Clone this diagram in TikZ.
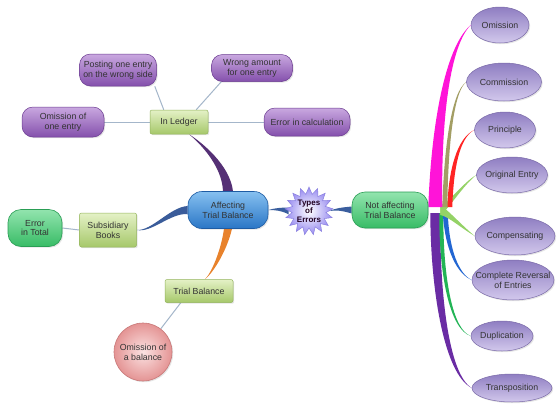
\documentclass[tikz,border=0pt]{standalone}
\usepackage{fontspec}
\setmainfont{Liberation Sans}
\usetikzlibrary{calc,shapes.geometric,shapes.symbols,shadows,backgrounds}
\definecolor{purTop}{HTML}{C9A8E0}
\definecolor{purBot}{HTML}{8450AC}
\definecolor{purDr}{HTML}{6A3A90}
\definecolor{ellTop}{HTML}{8F7EC2}
\definecolor{ellBot}{HTML}{D2C8EC}
\definecolor{ellDr}{HTML}{7A6AA8}
\definecolor{grTop}{HTML}{E4F1C6}
\definecolor{grBot}{HTML}{A6C86A}
\definecolor{grDr}{HTML}{93B45C}
\definecolor{gnTop}{HTML}{92E4AE}
\definecolor{gnBot}{HTML}{38BC66}
\definecolor{gnDr}{HTML}{2A9E55}
\definecolor{blTop}{HTML}{86C0F0}
\definecolor{blBot}{HTML}{2A76C6}
\definecolor{blDr}{HTML}{1E5CA4}
\definecolor{pkIn}{HTML}{FBE2E2}
\definecolor{pkOut}{HTML}{E49494}
\definecolor{pkDr}{HTML}{C87878}
\definecolor{stOut}{HTML}{988CF0}
\definecolor{stDr}{HTML}{8A80E0}
\definecolor{thinC}{HTML}{A4B6CA}
\definecolor{cMag}{HTML}{FF14D8}
\definecolor{cOli}{HTML}{A39E64}
\definecolor{cRed}{HTML}{FF2424}
\definecolor{cLgr}{HTML}{94D266}
\definecolor{cBlu}{HTML}{2266D2}
\definecolor{cGrn}{HTML}{22B455}
\definecolor{cPur}{HTML}{6A2CA4}
\definecolor{cLed}{HTML}{553075}
\definecolor{cSub}{HTML}{3A5C9A}
\definecolor{cOra}{HTML}{E8822C}
\definecolor{cTyp}{HTML}{3A5E9E}
% colour, start, c1, c2, end, offset at start, offset at c1, offset at c2
\newcommand{\taper}[8]{\fill[#1] ($(#2)+(#6)$) .. controls ($(#3)+(#7)$) and ($(#4)+(#8)$) .. (#5) .. controls ($(#4)-(#8)$) and ($(#3)-(#7)$) .. ($(#2)-(#6)$) -- cycle;}
\pgfdeclarelayer{bgzero}
\pgfsetlayers{bgzero,background,main}
\tikzset{
  base/.style={font=\fontsize{8.8}{9.8}\selectfont, text=black!80, align=center, inner sep=0.5pt,
    drop shadow={opacity=0.2, shadow xshift=1.2pt, shadow yshift=-1.2pt}},
  purp/.style={base, rectangle, rounded corners=11pt, draw=purDr, line width=0.5pt, top color=purTop, bottom color=purBot},
  ell/.style={base, ellipse, draw=ellDr, line width=0.5pt, top color=ellTop, bottom color=ellBot, inner sep=0pt},
  grect/.style={base, rectangle, rounded corners=2pt, draw=grDr, line width=0.5pt, top color=grTop, bottom color=grBot},
  gnode/.style={base, rectangle, rounded corners=13pt, draw=gnDr, line width=0.6pt, top color=gnTop, bottom color=gnBot},
  bnode/.style={base, rectangle, rounded corners=14pt, draw=blDr, line width=0.6pt, top color=blTop, bottom color=blBot},
  pcirc/.style={base, circle, draw=pkDr, line width=0.6pt, inner color=pkIn, outer color=pkOut},
  thinl/.style={draw=thinC, line width=1pt},
}
\begin{document}
\begin{tikzpicture}[x=1pt, y={(0pt,-1pt)}]
\useasboundingbox (0,0) rectangle (560,405);
\begin{pgfonlayer}{bgzero}
\fill[white] (0,0) rectangle (560,405);
\end{pgfonlayer}

% left side nodes
\node[purp, minimum width=77pt, minimum height=32pt] (post) at (118,70) {Posting one entry\\on the wrong side};
\node[purp, minimum width=81pt, minimum height=27pt] (wrong) at (252,68) {Wrong amount\\for one entry};
\node[purp, minimum width=82pt, minimum height=30pt] (omi) at (63,122) {Omission of\\one entry};
\node[grect, minimum width=58pt, minimum height=24pt] (led) at (179,122) {In Ledger};
\node[purp, minimum width=86pt, minimum height=28pt] (err) at (307,122) {Error in calculation};
\node[bnode, minimum width=80pt, minimum height=37pt] (aff) at (228,210) {Affecting\\Trial Balance};
\node[starburst, starburst points=17, starburst point height=7pt, random starburst=0,
      inner sep=0pt, minimum width=46pt, minimum height=48pt, draw=stDr, line width=0.5pt,
      inner color=white, outer color=stOut, font=\fontsize{8}{8.4}\selectfont\bfseries,
      text=black!75!violet, align=center] (typ) at (309,211) {Types\\of\\Errors};
\node[gnode, minimum width=76pt, minimum height=36pt] (nab) at (390,210) {Not affecting\\Trial Balance};
\node[gnode, minimum width=54pt, minimum height=37pt] (tot) at (35,228) {Error\\in Total};
\node[grect, minimum width=57pt, minimum height=34pt] (sub) at (108,230) {Subsidiary\\Books};
\node[grect, minimum width=68pt, minimum height=23pt] (tb) at (199,291) {Trial Balance};
\node[pcirc, minimum size=58pt] (bal) at (143,352) {Omission of\\a balance};

% right ellipses
\node[ell, minimum width=58pt, minimum height=36pt] (om) at (500,25) {Omission};
\node[ell, minimum width=75pt, minimum height=38pt] (com) at (504,82) {Commission};
\node[ell, minimum width=61pt, minimum height=36pt] (pri) at (505,130) {Principle};
\node[ell, minimum width=71pt, minimum height=36pt, inner xsep=-5pt] (ori) at (512,175) {Original Entry};
\node[ell, minimum width=80pt, minimum height=38pt, inner xsep=-5pt] (cmp) at (515,236) {Compensating};
\node[ell, minimum width=82pt, minimum height=40pt, inner xsep=-15pt, inner ysep=-4pt] (rev) at (513,280) {Complete Reversal\\of Entries};
\node[ell, minimum width=62pt, minimum height=30pt] (dup) at (502,336) {Duplication};
\node[ell, minimum width=80pt, minimum height=28pt, inner xsep=-4pt] (tra) at (512,388) {Transposition};

\begin{scope}[on background layer]
% thin connectors
\draw[thinl] ($(led.north west)+(14,0)$) -- ($(post.south east)+(-2,0)$);
\draw[thinl] ($(led.north east)+(-12,0)$) -- ($(wrong.south west)+(10,0)$);
\draw[thinl] (omi.east) -- (led.west);
\draw[thinl] (led.east) -- (err.west);
\draw[thinl] (tot.east) -- (sub.west);
\draw[thinl] (bal) -- ($(tb.south west)+(16,0)$);
% tapered connectors, left
\coordinate (ledE) at ($(led.south)+(10,0)$);
\coordinate (tbE) at ($(tb.north)+(6,0)$);
\taper{cLed}{aff.north}{226,165}{200,142}{ledE}{5,0}{4,0}{1.5,0}
\taper{cSub}{aff.west}{170,210}{152,232}{sub.east}{0,4}{0,3}{0,1}
\taper{cOra}{aff.south}{224,250}{213,272}{tbE}{4,0}{3,0}{1,0}
\taper{cTyp}{typ.west}{282,209}{275,209}{aff.east}{0,3.5}{0,1.5}{0,1}
\taper{cTyp}{nab.west}{342,209}{336,209}{typ.east}{0,3.5}{0,1.5}{0,1}
% right branches
\coordinate (s1) at ($(nab.east)+(7,-3)$);
\coordinate (s2) at ($(nab.east)+(16.5,-3)$);
\coordinate (s3) at ($(nab.east)+(21.5,-3)$);
\coordinate (sv) at ($(nab.east)+(12,0)$);
\coordinate (s6) at ($(nab.east)+(17,3)$);
\coordinate (s7) at ($(nab.east)+(13,3)$);
\coordinate (s8) at ($(nab.east)+(7,3)$);
\taper{cPur}{s8}{435,290}{446,374}{tra.west}{5,0}{4.5,0}{2,0}
\taper{cGrn}{s7}{441,280}{452,330}{dup.west}{2,0}{2,0}{1,0}
\taper{cBlu}{s6}{447,250}{458,274}{rev.west}{2.5,0}{2,0}{1,0}
\taper{cLgr}{sv}{448,213}{463,228}{cmp.west}{0,5}{0,3}{0,1.5}
\taper{cLgr}{sv}{448,207}{463,184}{ori.west}{0,5}{0,3}{0,1.5}
\taper{cRed}{s3}{451,170}{458,138}{pri.west}{2.5,0}{2.5,0}{1,0}
\taper{cOli}{s2}{446,150}{452,92}{com.west}{2.5,0}{2,0}{1,0}
\taper{cMag}{s1}{436,130}{446,48}{om.west}{7,0}{5,0}{2,0}
\end{scope}
\end{tikzpicture}
\end{document}
